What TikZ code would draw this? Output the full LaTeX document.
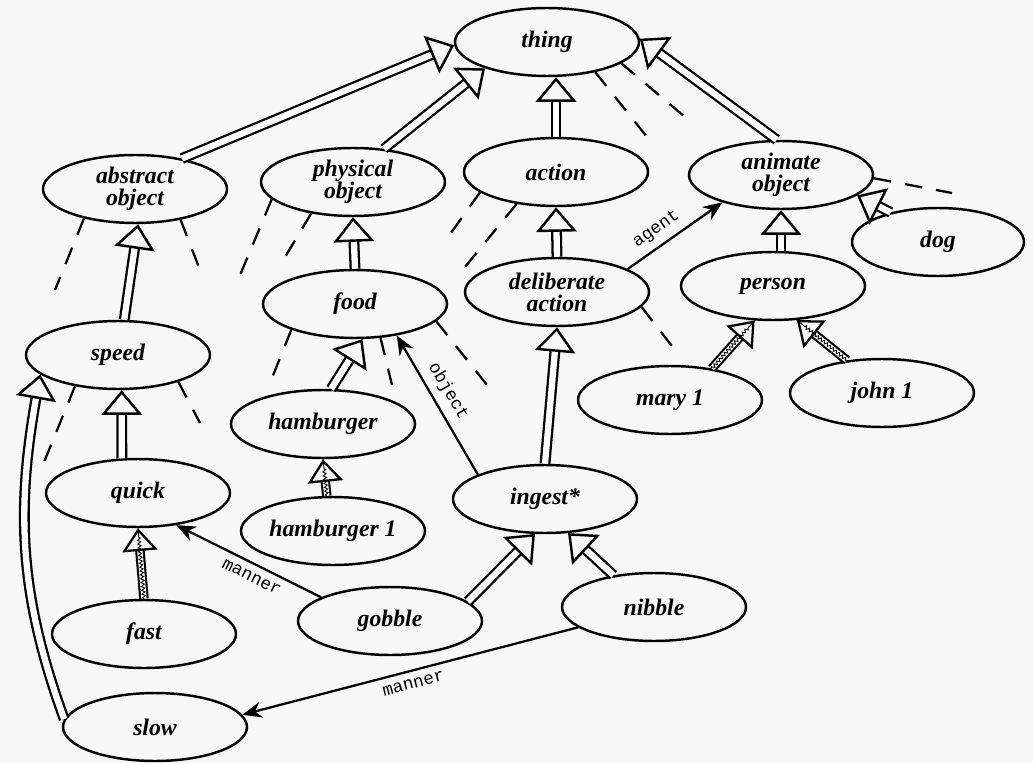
\documentclass[tikz,border=0pt]{standalone}
\usepackage{fontspec}
\setmainfont{Liberation Serif}
\newfontfamily\lblfont{Liberation Mono}
\usetikzlibrary{shapes.geometric,arrows.meta,decorations.pathmorphing}

\tikzset{
  concept/.style={draw, ellipse, line width=1.4pt, minimum width=3.68cm, minimum height=1.36cm,
    inner sep=0pt, align=center, font=\bfseries\itshape\fontsize{13.5}{12.5}\selectfont},
  isa/.style={double, double distance=3.6pt, line width=1.3pt,
    -{Triangle[open, length=14pt, width=23pt, line width=1.4pt]}},
  inst/.style={double, double distance=3pt, line width=1.2pt,
    -{Triangle[open, length=13pt, width=20pt, line width=1.3pt]}},
  instzz/.style={line width=0.5pt, decorate,
    decoration={zigzag, amplitude=0.9pt, segment length=2.2pt, post length=5pt}},
  role/.style={line width=1.3pt, -{Stealth[length=11pt, width=9pt]}},
  rolelabel/.style={font=\lblfont\fontsize{10}{10}\selectfont, sloped, inner sep=4pt},
  split/.style={line width=1.3pt, dash pattern=on 10pt off 8pt}
}

\newcommand{\instlink}[2]{%
  \draw[inst] (#1) -- (#2);
  \draw[instzz] (#1) -- (#2);}

\begin{document}
\begin{tikzpicture}[x=0.02cm, y=-0.02cm]
\useasboundingbox (0,0) rectangle (1033,763);
\fill[black!3] (0,0) rectangle (1033,763);

% concepts
\node[concept] (thing) at (547,42) {thing};
\node[concept] (abs) at (135,189) {abstract\\object};
\node[concept] (phys) at (353,182) {physical\\object};
\node[concept] (action) at (556,172) {action};
\node[concept] (animate) at (781,175) {animate\\object};
\node[concept, minimum width=3.44cm] (dog) at (938,242) {dog};
\node[concept] (speed) at (118,355) {speed};
\node[concept] (food) at (355,304) {food};
\node[concept] (delib) at (557,292) {deliberate\\action};
\node[concept] (person) at (773,286) {person};
\node[concept] (mary) at (670,400) {mary 1};
\node[concept] (john) at (882,393) {john 1};
\node[concept] (ham) at (323,424) {hamburger};
\node[concept] (ham1) at (333,531) {hamburger 1};
\node[concept] (quick) at (138,493) {quick};
\node[concept] (fast) at (144,634) {fast};
\node[concept] (gobble) at (390,621) {gobble};
\node[concept] (ingest) at (545,499) {ingest*};
\node[concept] (nibble) at (654,607) {nibble};
\node[concept] (slow) at (155,727) {slow};

% is-a links
\draw[isa] (abs.33) -- (thing.182);
\draw[isa] (phys.47) -- (thing.203);
\draw[isa] (action.north) -- (action.north |- thing.south);
\draw[isa] (animate.97) -- (thing.2);
\draw[isa] (food.north) -- (phys.south);
\draw[isa] (delib.north) -- (action.south);
\draw[isa] (person.north -| animate.south) -- (animate.south);
\draw[isa] (dog.148) -- (animate.345);
\draw[isa] (ham.77) -- (food.282);
\draw[isa] (speed.80) -- (abs.275);
\draw[isa] (quick.115) -- (speed.276);
\draw[isa] (slow.175) to[out=110, in=-100] (speed.194);
\draw[isa] (ingest.north) -- (delib.south);
\draw[isa] (gobble.14) -- (ingest.254);
\draw[isa] (nibble.142) -- (ingest.304);

% instance links
\instlink{ham1.100}{ham.south}
\instlink{fast.north}{quick.south}
\instlink{mary.37}{person.242}
\instlink{john.137}{person.305}

% roles
\draw[role] (gobble.161) -- node[rolelabel, below, pos=0.44] {manner} (quick.320);
\draw[role] (nibble.195) -- node[rolelabel, below, pos=0.5] {manner} (slow.8);
\draw[role] (ingest.160) -- node[rolelabel, above, pos=0.54] {object} (food.323);
\draw[role] (delib.18) -- node[rolelabel, above, pos=0.4] {agent} (animate.205);

% partition lines
\coordinate (absL) at (55,290);
\coordinate (absR) at (200,270);
\coordinate (physL) at (238,280);
\coordinate (physM) at (285,257);
\coordinate (actL) at (448,237);
\coordinate (actM) at (465,267);
\coordinate (thingA) at (647,137);
\coordinate (thingB) at (685,117);
\coordinate (foodL) at (270,383);
\coordinate (foodM) at (392,385);
\coordinate (foodR) at (487,385);
\coordinate (delibR) at (675,350);
\coordinate (animR) at (952,193);
\coordinate (speedL) at (42,467);
\coordinate (speedR) at (200,423);
\draw[split] (abs.210) -- (absL);
\draw[split] (abs.326) -- (absR);
\draw[split] (phys.192) -- (physL);
\draw[split] (phys.217) -- (physM);
\draw[split] (action.195) -- (actL);
\draw[split] (action.219) -- (actM);
\draw[split] (thing.328) -- (thingA);
\draw[split] (thing.344) -- (thingB);
\draw[split] (food.202) -- (foodL);
\draw[split] (food.307) -- (foodM);
\draw[split] (food.348) -- (foodR);
\draw[split] (delib.350) -- (delibR);
\draw[split] (animate.358) -- (animR);
\draw[split] (speed.216) -- (speedL);
\draw[split] (speed.336) -- (speedR);
\end{tikzpicture}
\end{document}
